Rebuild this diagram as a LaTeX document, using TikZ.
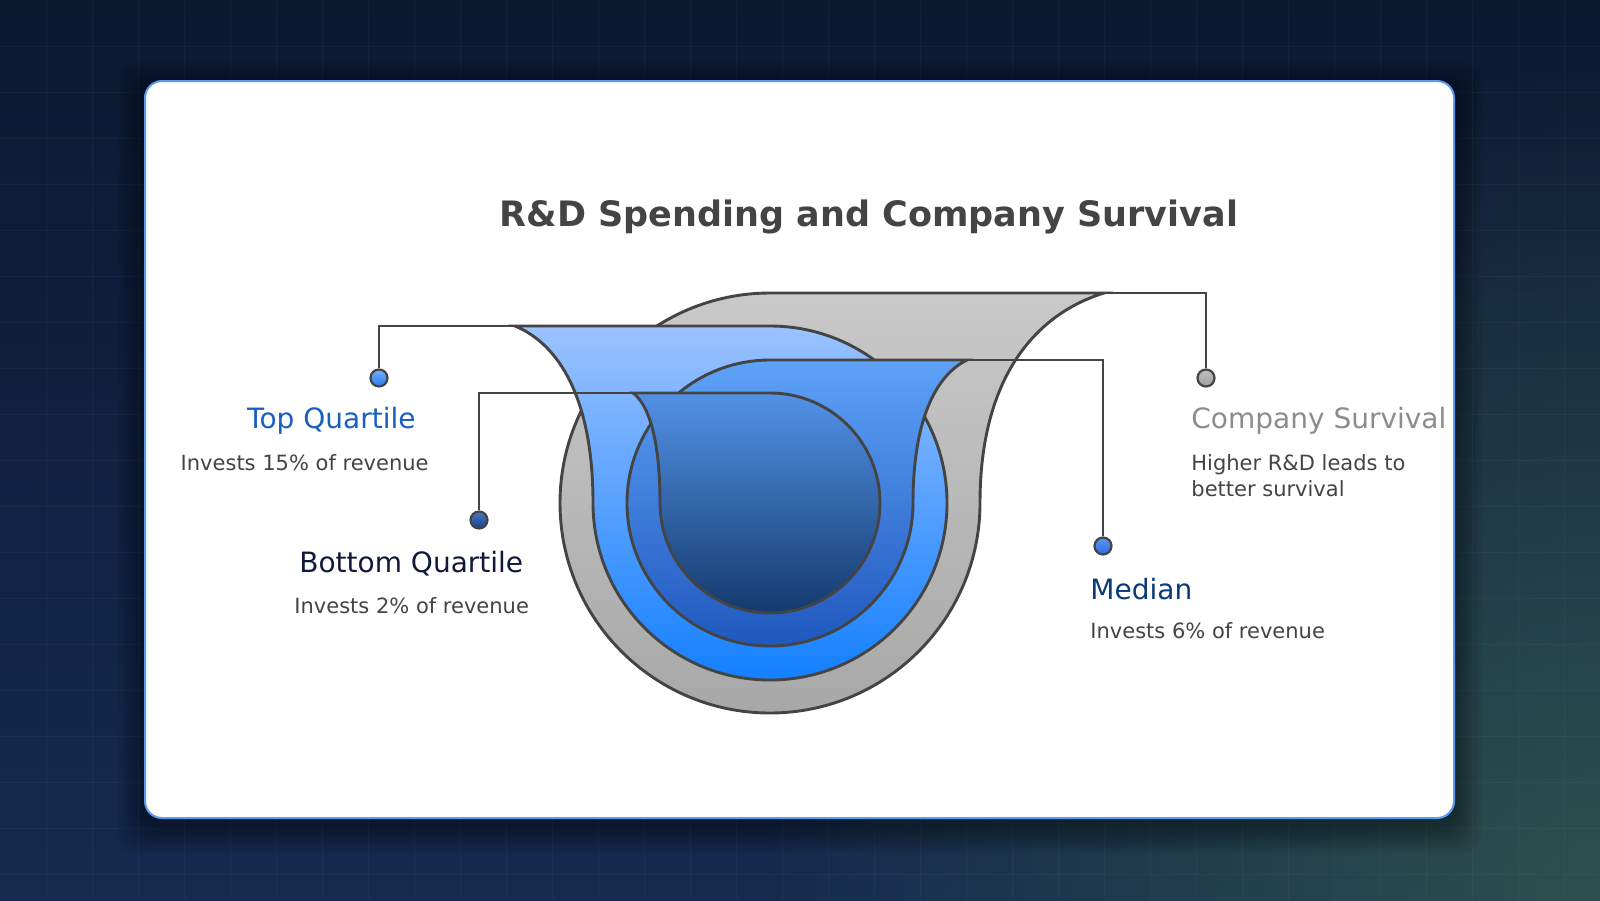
\documentclass[tikz,border=0pt]{standalone}
\usepackage{fontspec}
\setmainfont{DejaVu Sans}
\usetikzlibrary{fadings}
\definecolor{bgtop}{RGB}{11,25,49}
\definecolor{bgbot}{RGB}{20,42,78}
\definecolor{bgglow}{RGB}{46,80,78}
\definecolor{cardline}{RGB}{90,155,240}
\definecolor{edge}{RGB}{68,68,68}
\definecolor{txt}{RGB}{68,68,68}
\definecolor{survgray}{RGB}{140,140,140}
\definecolor{topblue}{RGB}{26,94,196}
\definecolor{botnavy}{RGB}{14,26,56}
\definecolor{medblue}{RGB}{10,58,120}
\tikzfading[name=glowfade, inner color=transparent!0, outer color=transparent!100]

\begin{document}
\begin{tikzpicture}[x=0.5pt, y=-0.5pt,
  layer/.style={draw=edge, line width=1.45pt},
  link/.style={draw=edge, line width=1.35pt},
  dot/.style={circle, draw=edge, line width=1.1pt, minimum size=8.5pt, inner sep=0pt},
  head/.style={inner sep=0pt, font=\fontsize{14pt}{16pt}\selectfont},
  sub/.style={inner sep=0pt, text=txt, font=\fontsize{10.5pt}{13pt}\selectfont, align=left},
  gridline/.style={white, opacity=0.035, line width=0.5pt}]
\useasboundingbox (0,0) rectangle (1600,900);
% backdrop
\begin{scope}
  \clip (0,0) rectangle (1600,900);
  \shade[top color=bgtop, bottom color=bgbot] (0,0) rectangle (1600,900);
  \fill[bgglow, path fading=glowfade] (1600,900) circle (850);
  \foreach \g in {46,92,...,1564} \draw[gridline] (\g,0) -- (\g,900);
  \foreach \g in {46,92,...,874} \draw[gridline] (0,\g) -- (1600,\g);
\end{scope}
% card
\foreach \s in {3,6,...,27} \fill[black, opacity=0.045, rounded corners=10pt] (145-\s,81-\s+8) rectangle (1454+\s,818+\s+8);
\draw[fill=white, draw=cardline, line width=1pt, rounded corners=8.5pt] (145,81) rectangle (1454,818);
\node[text=txt, font=\bfseries\fontsize{17.5pt}{20pt}\selectfont] (title) at (869,217) {R\&D Spending and Company Survival};
% funnels
\shadedraw[layer, top color={rgb,255:red,201;green,201;blue,201}, bottom color={rgb,255:red,168;green,168;blue,168}] (770,293) -- (1104,293) .. controls (1035.8,314) and (980,377) .. (980,503) arc[start angle=0, end angle=270, radius=210] -- cycle;
\shadedraw[layer, top color={rgb,255:red,155;green,194;blue,255}, bottom color={rgb,255:red,20;green,128;blue,255}] (770,326) -- (515,326) .. controls (557.9,343.7) and (593,396.8) .. (593,503) arc[start angle=180, end angle=-90, radius=177] -- cycle;
\shadedraw[layer, top color={rgb,255:red,94;green,162;blue,248}, bottom color={rgb,255:red,32;green,88;blue,190}] (770,360) -- (967,360) .. controls (937.3,374.3) and (913,417.2) .. (913,503) arc[start angle=0, end angle=270, radius=143] -- cycle;
\shadedraw[layer, top color={rgb,255:red,82;green,146;blue,230}, bottom color={rgb,255:red,20;green,58;blue,110}] (770,393) -- (633,393) .. controls (647.9,404) and (660,437) .. (660,503) arc[start angle=180, end angle=-90, radius=110] -- cycle;
\coordinate (csend) at (1104,293);
\coordinate (tqend) at (515,326);
\coordinate (medend) at (967,360);
\coordinate (bqend) at (633,393);
% markers
\node[dot, top color={rgb,255:red,120;green,175;blue,255}, bottom color={rgb,255:red,40;green,120;blue,235}] (tqdot) at (379,378) {};
\node[dot, top color={rgb,255:red,70;green,120;blue,200}, bottom color={rgb,255:red,25;green,65;blue,130}] (bqdot) at (479,520) {};
\node[dot, top color={rgb,255:red,90;green,150;blue,245}, bottom color={rgb,255:red,45;green,110;blue,225}] (meddot) at (1103,546) {};
\node[dot, top color={rgb,255:red,190;green,190;blue,190}, bottom color={rgb,255:red,160;green,160;blue,160}] (csdot) at (1206,378) {};
\draw[link] (tqend) -| (tqdot);
\draw[link] (bqend) -| (bqdot);
\draw[link] (medend) -| (meddot);
\draw[link] (csend) -| (csdot);
% labels
\node[head, text=topblue, anchor=east] (tqhead) at (416,421) {Top Quartile};
\node[sub, anchor=east] (tqsub) at (429,463) {Invests 15\% of revenue};
\node[head, text=botnavy, anchor=west] (bqhead) at (299,564) {Bottom Quartile};
\node[sub, anchor=west] (bqsub) at (294,606) {Invests 2\% of revenue};
\node[head, text=medblue, anchor=west] (medhead) at (1090,589) {Median};
\node[sub, anchor=west] (medsub) at (1090,631) {Invests 6\% of revenue};
\node[head, text=survgray, anchor=west] (cshead) at (1191,421) {Company Survival};
\node[sub, anchor=west] (cssub) at (1191,476) {Higher R\&D leads to\\better survival};
\end{tikzpicture}
\end{document}
